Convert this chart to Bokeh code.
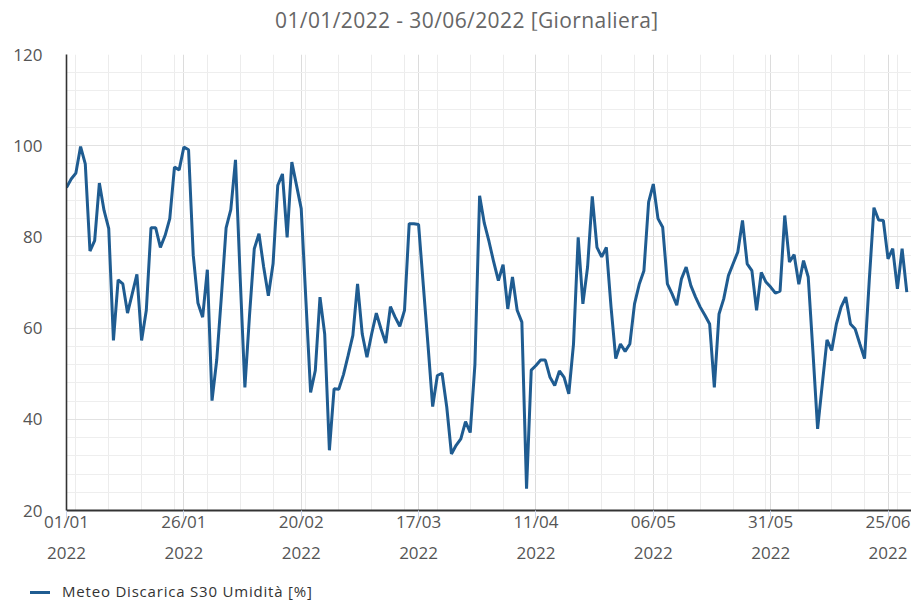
import pandas as pd
from bokeh.plotting import figure
from bokeh.layouts import column
from bokeh.models import Range1d, FixedTicker, Div
from bokeh.embed import file_html
from bokeh.resources import INLINE

# ---------------- data ----------------
start_date = "2022-01-01"
end_date = "2022-06-30"
title_text = "01/01/2022 - 30/06/2022 [Giornaliera]"
series_name = "Meteo Discarica S30 Umidità [%]"

humidity = [
    90.8, 92.7, 94.0, 99.8, 96.0, 76.9, 79.2, 91.8, 85.8, 81.8,
    57.3, 70.6, 69.7, 63.3, 67.5, 71.8, 57.3, 63.9, 82.0, 82.0,
    77.7, 80.3, 84.0, 95.3, 94.7, 99.7, 99.1, 76.0, 65.5, 62.4,
    72.8, 44.1, 53.0, 67.0, 82.0, 86.0, 96.9, 71.0, 47.0, 63.0,
    77.4, 80.7, 73.4, 67.1, 74.1, 91.3, 93.8, 79.9, 96.4, 91.3,
    86.2, 66.0, 45.9, 50.7, 66.8, 58.7, 33.2, 46.7, 46.6, 49.8,
    54.0, 58.4, 69.7, 58.7, 53.6, 58.7, 63.3, 59.8, 56.7, 64.7,
    62.4, 60.4, 63.9, 82.9, 82.9, 82.7, 69.5, 56.4, 42.8, 49.6,
    50.1, 42.7, 32.4, 34.3, 35.7, 39.5, 37.1, 52.0, 89.0, 83.0,
    79.0, 74.5, 70.4, 73.9, 64.2, 71.2, 63.9, 61.3, 24.8, 50.8,
    51.8, 53.0, 53.0, 49.2, 47.4, 50.6, 49.2, 45.6, 56.5, 79.9,
    65.3, 73.4, 88.9, 77.7, 75.6, 77.7, 64.6, 53.3, 56.5, 54.9,
    56.5, 65.3, 69.6, 72.6, 87.6, 91.6, 84.0, 82.1, 69.7, 67.5,
    65.0, 70.8, 73.4, 69.3, 66.8, 64.6, 62.8, 60.9, 47.0, 63.1,
    66.4, 71.5, 74.1, 76.7, 83.6, 74.1, 72.6, 63.9, 72.2, 70.1,
    69.0, 67.7, 68.1, 84.7, 74.5, 76.1, 69.6, 74.8, 71.2, 54.9,
    37.9, 47.7, 57.4, 55.1, 60.9, 64.6, 66.8, 60.9, 59.8, 56.5,
    53.3, 70.4, 86.4, 83.7, 83.6, 75.2, 77.4, 68.6, 77.4, 67.9,
]

x_tick_dates = ["2022-01-01", "2022-01-26", "2022-02-20", "2022-03-17",
                "2022-04-11", "2022-05-06", "2022-05-31", "2022-06-25"]
x_tick_labels = ["01/01\n2022", "26/01\n2022", "20/02\n2022", "17/03\n2022",
                 "11/04\n2022", "06/05\n2022", "31/05\n2022", "25/06\n2022"]
y_ticks = [20, 40, 60, 80, 100, 120]
y_minor_step = 4


def ms(d):
    return int(pd.Timestamp(d).value // 10**6)


dates = pd.date_range(start_date, periods=len(humidity), freq="D")
week_starts = pd.date_range(start_date, end_date, freq="W-MON")

FONT = "Open Sans"
LINE_COLOR = "#1f5c91"
W = 911
TITLE_H = 30
LEGEND_H = 25

# title strip above the chart
title_html = (
    '<div style="margin:0;padding:8px 0 0 275px;white-space:nowrap;letter-spacing:0.4px;'
    "font-family:'Open Sans',sans-serif;font-size:21px;line-height:24px;color:#666666;\">"
    '%s</div>' % title_text
)
title_div = Div(text=title_html, width=W, height=TITLE_H, margin=(0, 0, 0, 0))

p = figure(
    width=W, height=600 - TITLE_H - LEGEND_H,
    x_axis_type="datetime",
    x_range=Range1d(ms(start_date), ms(end_date)),
    y_range=Range1d(y_ticks[0], y_ticks[-1]),
    output_backend="svg", toolbar_location=None,
    min_border_left=66, min_border_right=0, min_border_top=54 - TITLE_H, min_border_bottom=65,
    background_fill_color="white", border_fill_color="white",
)
p.outline_line_color = None
p.title.visible = False

# x axis
xa = p.xaxis[0]
xa.ticker = FixedTicker(ticks=[ms(d) for d in x_tick_dates],
                        minor_ticks=[ms(d) for d in week_starts])
xa.major_label_overrides = {ms(d): lab for d, lab in zip(x_tick_dates, x_tick_labels)}
xa.major_label_text_font = FONT
xa.major_label_text_font_size = "17px"
xa.major_label_text_color = "#555555"
xa.major_label_text_line_height = 1.36
xa.major_label_standoff = -9
xa.axis_line_color = "#333333"
xa.axis_line_width = 2
xa.major_tick_line_color = "#ccd6eb"
xa.major_tick_out = 8
xa.major_tick_in = 0
xa.minor_tick_line_color = None
xa.minor_tick_out = 0

# y axis
ya = p.yaxis[0]
ya.ticker = FixedTicker(ticks=y_ticks,
                        minor_ticks=list(range(y_ticks[0], y_ticks[-1] + 1, y_minor_step)))
ya.major_label_text_font = FONT
ya.major_label_text_font_size = "17px"
ya.major_label_text_color = "#555555"
ya.major_label_text_baseline = "alphabetic"
ya.major_label_standoff = 24
ya.axis_line_color = "#333333"
ya.axis_line_width = 1.6
ya.major_tick_line_color = None
ya.minor_tick_line_color = None
ya.major_tick_out = 0
ya.minor_tick_out = 0

# grids
p.xgrid.grid_line_color = "#dcdcdc"
p.xgrid.minor_grid_line_color = "#ececec"
p.ygrid.grid_line_color = "#e2e2e2"
p.ygrid.minor_grid_line_color = "#eeeeee"

p.line(dates, humidity, line_color=LINE_COLOR, line_width=3)

# legend strip below the chart
legend_html = (
    '<div style="margin:0;padding:6px 0 0 30px;white-space:nowrap;letter-spacing:0.8px;'
    "font-family:'Open Sans',sans-serif;font-size:15px;line-height:20px;color:#333333;\">"
    '<span style="display:inline-block;width:20px;height:3px;background:%s;'
    'vertical-align:middle;margin-right:12px;"></span>%s</div>' % (LINE_COLOR, series_name)
)
legend_div = Div(text=legend_html, width=W, height=LEGEND_H, margin=(0, 0, 0, 0))

layout = column(title_div, p, legend_div, spacing=0)
open("out.html", "w").write(file_html(layout, INLINE))
